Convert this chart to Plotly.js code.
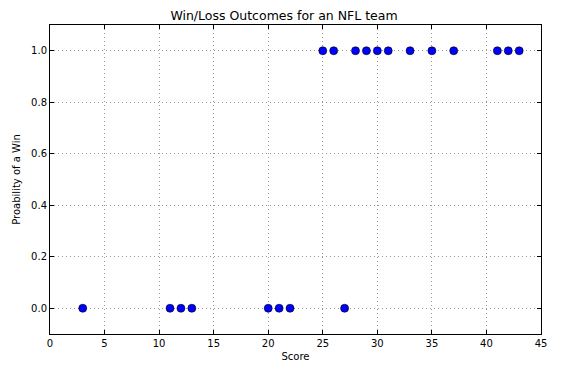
<!DOCTYPE html>
<html>
<head>
<meta charset="utf-8">
<script src="https://cdn.plot.ly/plotly-3.0.1.min.js"></script>
<style>html,body{margin:0;padding:0;background:#fff;}#chart{width:568px;height:370px;}</style>
</head>
<body>
<div id="chart"></div>
<script>
const scores = [3, 11, 12, 13, 20, 21, 22, 27, 25, 26, 28, 29, 30, 31, 33, 35, 37, 41, 42, 43];
const outcomes = [0, 0, 0, 0, 0, 0, 0, 0, 1, 1, 1, 1, 1, 1, 1, 1, 1, 1, 1, 1];
const xTicks = [0, 5, 10, 15, 20, 25, 30, 35, 40, 45];
const yTicks = [0.0, 0.2, 0.4, 0.6, 0.8, 1.0];

const axisCommon = {
  showline: true, linecolor: '#000', linewidth: 1, mirror: 'allticks',
  ticks: 'inside', ticklen: 4, tickcolor: '#000', tickwidth: 1,
  showgrid: true, gridcolor: '#999999', griddash: '1px,3px', gridwidth: 1,
  zeroline: false,
  tickfont: {family: 'DejaVu Sans', size: 10, color: '#000'}
};

Plotly.newPlot('chart', [{
  x: scores, y: outcomes, type: 'scatter', mode: 'markers',
  marker: {color: '#0000ff', size: 8, line: {color: '#000', width: 0.6}},
  hoverinfo: 'none'
}], {
  width: 568, height: 370,
  margin: {l: 50, r: 27, t: 25, b: 36},
  paper_bgcolor: '#fff', plot_bgcolor: '#fff',
  showlegend: false,
  title: {text: 'Win/Loss Outcomes for an NFL team', font: {family: 'DejaVu Sans', size: 12.5, color: '#000'}, x: 0.5, xanchor: 'center', yref: 'container', y: 0.959, yanchor: 'middle'},
  xaxis: Object.assign({}, axisCommon, {
    range: [0, 45], tickvals: xTicks, ticktext: xTicks.map(String),
    title: {text: 'Score', font: {family: 'DejaVu Sans', size: 10, color: '#000'}, standoff: 4}
  }),
  yaxis: Object.assign({}, axisCommon, {
    range: [-0.1, 1.1], tickvals: yTicks, ticktext: yTicks.map(v => v.toFixed(1)),
    title: {text: 'Proability of a Win', font: {family: 'DejaVu Sans', size: 10, color: '#000'}, standoff: 8}
  })
}, {staticPlot: true});
</script>
</body>
</html>
